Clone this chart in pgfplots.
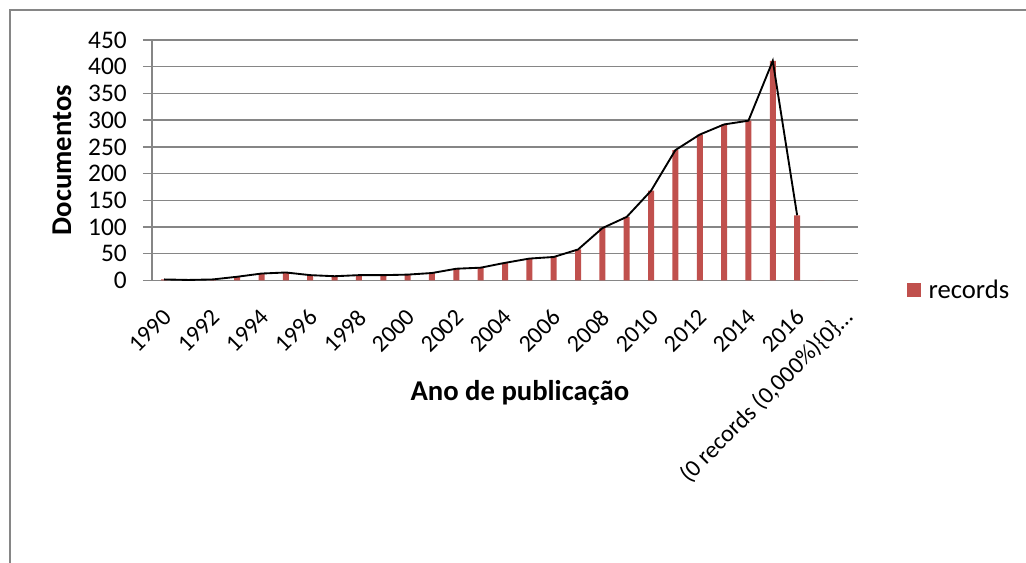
\documentclass[border=0pt]{standalone}
\usepackage{fontspec}
\setmainfont{Carlito}
\usepackage{pgfplots}
\pgfplotsset{compat=1.18}
\definecolor{barred}{HTML}{C0504D}
\definecolor{gridgray}{HTML}{868686}
\begin{document}
\begin{tikzpicture}
\useasboundingbox (0pt,0pt) rectangle (769.5pt,422.25pt);
\draw[gridgray, line width=1pt] (7.5pt,0pt) -- (7.5pt,414.75pt) -- (769.5pt,414.75pt);
\begin{axis}[
  at={(114pt,211.875pt)}, anchor=south west,
  width=529.5pt, height=180.375pt, scale only axis,
  xmin=-0.5, xmax=28.5, ymin=0, ymax=450,
  ytick={0,50,...,450},
  xtick={0,2,...,28},
  xticklabels={1990,1992,1994,1996,1998,2000,2002,2004,2006,2008,2010,2012,2014,2016,{(0 records (0,000\%)\{0\}\ldots}},
  ymajorgrids,
  major grid style={gridgray, line width=1pt},
  axis line style={gridgray, line width=1pt},
  axis x line*=bottom, axis y line*=left,
  tick align=outside,
  major tick length=6.75pt,
  ytick style={gridgray, line width=1pt},
  xtick style={draw=none},
  /pgf/number format/assume math mode=true,
  yticklabel style={font=\fontsize{19}{19}\selectfont, anchor=east, inner sep=0pt, xshift=-12pt},
  xticklabel style={font=\fontsize{18}{18}\selectfont, inner sep=0pt, anchor=east, xshift=2.5pt, yshift=-18pt, rotate=45},
  every axis y label/.style={at={(axis description cs:-0.1275,0.5)}, rotate=90, anchor=center, font=\fontsize{21.5}{21.5}\selectfont\bfseries},
  every axis x label/.style={at={(axis description cs:0.521,-0.4678)}, anchor=center, font=\fontsize{21.5}{21.5}\selectfont\bfseries},
  ylabel={Documentos},
  xlabel={Ano de publicação},
  legend style={at={(axis description cs:1.0722,-0.0395)}, anchor=west, xshift=-1.5pt, draw=none, fill=none, inner sep=0pt, font=\fontsize{20}{20}\selectfont, nodes={inner sep=3pt}},
  legend image code/.code={\fill[barred] (0pt,-5.25pt) rectangle (10.5pt,5.25pt); \path (13pt,0pt);},
]
\addplot[ybar, bar width=4.5pt, bar shift=0pt, fill=barred, draw=none] coordinates {
(0,2) (1,1) (2,2) (3,7) (4,13) (5,15) (6,10) (7,8) (8,10) (9,10) (10,11) (11,14) (12,22) (13,24) (14,33) (15,41) (16,44) (17,58) (18,98) (19,119) (20,168) (21,244) (22,273) (23,292) (24,299) (25,411) (26,122) (27,0) (28,0)
};
\addlegendentry{records}
\addplot[black, line width=1.4pt, sharp plot, forget plot] coordinates {
(0,2) (1,1) (2,2) (3,7) (4,13) (5,15) (6,10) (7,8) (8,10) (9,10) (10,11) (11,14) (12,22) (13,24) (14,33) (15,41) (16,44) (17,58) (18,98) (19,119) (20,168) (21,244) (22,273) (23,292) (24,299) (25,411) (26,122)
};
\end{axis}
\end{tikzpicture}
\end{document}
